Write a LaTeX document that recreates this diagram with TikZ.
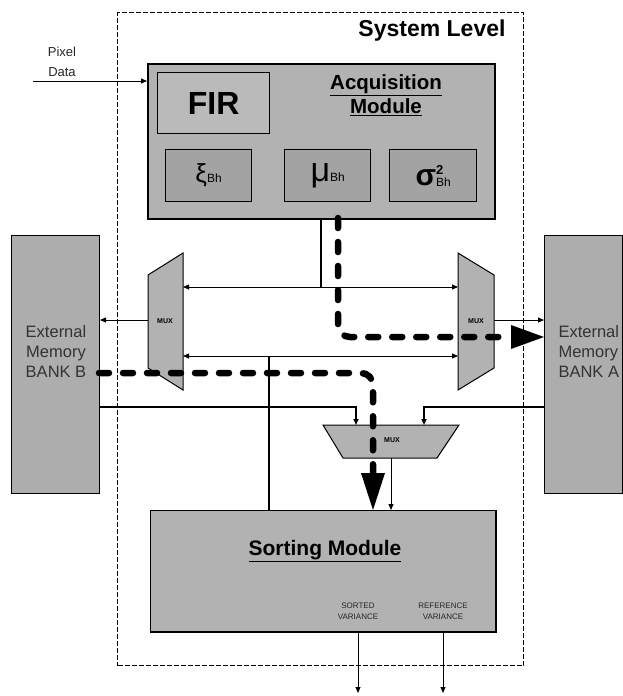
\documentclass[tikz,border=0pt]{standalone}
\usepackage{fontspec}
\setmainfont{Liberation Sans}
\usetikzlibrary{arrows.meta}
\begin{document}
\begin{tikzpicture}[x=1pt,y=-1pt,
  box/.style={draw, line width=1.3pt, fill=black!30, anchor=north west, inner sep=0pt},
  inbox/.style={draw, line width=1.3pt, fill=black!36, anchor=north west, inner sep=0pt},
  bank/.style={draw, line width=1pt, fill=black!32, anchor=north west, inner sep=0pt},
  mux/.style={draw, line width=1pt, fill=black!30},
  muxlabel/.style={font=\fontsize{7}{8}\selectfont\bfseries},
  thin/.style={line width=0.8pt},
  tip/.style={-{Triangle[length=6pt,width=5pt]}},
  bitip/.style={{Triangle[length=6pt,width=5pt]}-{Triangle[length=6pt,width=5pt]}},
  bigdash/.style={line width=6.5pt, dash pattern=on 10pt off 14pt, line cap=round},
  small/.style={font=\fontsize{8}{11}\selectfont, align=center, text=black!85}
]
\useasboundingbox (0,0) rectangle (622,696);

% system box
\node[draw, line width=1.1pt, dash pattern=on 5pt off 2pt, anchor=north west, inner sep=0pt,
      minimum width=406pt, minimum height=653pt] (sys) at (117,12) {};
\node[font=\fontsize{23}{27}\selectfont\bfseries] (syst) at (432,31) {System Level};

% acquisition module
\node[box, line width=2pt, minimum width=347pt, minimum height=155pt] (acq) at (147,63) {};
\node[inbox, fill=black!27, minimum width=112pt, minimum height=61pt] (fir) at (157,72) {};
\node[font=\fontsize{32}{36}\selectfont\bfseries] (firt) at (fir.center) {FIR};
\node[font=\fontsize{20.5}{24}\selectfont\bfseries] (acqt1) at (386,85) {\underline{Acquisition}};
\node[font=\fontsize{20.5}{24}\selectfont\bfseries] (acqt2) at (386,107) {\underline{Module}};
\node[inbox, minimum width=86pt, minimum height=52pt] (xi) at (165,149) {};
\node[inbox, minimum width=86pt, minimum height=52pt] (mu) at (284,149) {};
\node[inbox, minimum width=87pt, minimum height=52pt] (sig) at (389,149) {};
\node (xit) at (xi.center) {{\fontsize{26}{26}\selectfont ξ}\raisebox{0pt}{\fontsize{12}{12}\selectfont Bh}};
\node (mut) at (mu.center) {{\fontsize{34}{34}\selectfont μ}\raisebox{0pt}{\fontsize{12}{12}\selectfont Bh}};
\node (sigt) at (sig.center) {{\fontsize{30}{30}\selectfont\bfseries σ}\rlap{\raisebox{11pt}{\fontsize{13}{13}\selectfont\bfseries 2}}\raisebox{-1pt}{\fontsize{12}{12}\selectfont Bh}};

% pixel data
\node[font=\fontsize{13}{15}\selectfont, text=black!85] (pixt) at (62,52) {Pixel};
\node[font=\fontsize{13}{15}\selectfont, text=black!85] (datt) at (62,72) {Data};
\coordinate (pix) at (33,81);
\draw[thin, tip] (pix) -- (pix -| acq.west);

% banks
\node[bank, minimum width=88pt, minimum height=258pt] (bankB) at (11,235) {};
\node[bank, minimum width=78pt, minimum height=258pt] (bankA) at (544,235) {};
\node[font=\fontsize{16.5}{20}\selectfont, align=center, text=black!80] (bBt) at (56,352) {External\\Memory\\BANK B};
\node[font=\fontsize{16.5}{20}\selectfont, align=left, text=black!80, anchor=west] (bAt) at (555,352) {External\\Memory\\BANK A};

% muxes
\draw[mux] (148,275) -- (183,253) -- (183,390) -- (148,368) -- cycle;
\draw[mux] (458,253) -- (494,275) -- (494,368) -- (458,390) -- cycle;
\draw[mux] (323,425) -- (459,425) -- (437,458) -- (343,458) -- cycle;
\node[muxlabel] (muxL) at (165,321) {MUX};
\node[muxlabel] (muxR) at (476,321) {MUX};
\node[muxlabel] (muxD) at (392,440) {MUX};

% sorting module
\node[box, line width=1pt, minimum width=345pt, minimum height=121pt] (sort) at (150,510) {};
\draw[line width=2.2pt] (sort.north east) -- (sort.south east) -- (sort.south west);
\node[font=\fontsize{21}{25}\selectfont\bfseries] (sortt) at (325,551) {\underline{Sorting Module}};
\node[small] (sv) at (358,611) {SORTED\\VARIANCE};
\node[small] (rv) at (443,611) {REFERENCE\\VARIANCE};

% coordinates
\coordinate (a1) at (321,218);
\coordinate (j1) at (321,287);
\coordinate (uL) at (183,287);
\coordinate (uR) at (458,287);
\coordinate (lL) at (183,356);
\coordinate (lR) at (458,356);
\coordinate (j2) at (269,356);
\coordinate (mLo) at (148,320);
\coordinate (mRo) at (494,320);
\coordinate (bB1) at (99,407);
\coordinate (in1) at (356,407);
\coordinate (bA1) at (544,407);
\coordinate (in2) at (424,407);
\coordinate (mDo) at (391,458);
\coordinate (o1) at (358,693);
\coordinate (o2) at (443,693);

% buses
\draw[thin, bitip] (uL) -- (uR);
\draw[line width=1.3pt] (a1) -- (j1);
\draw[thin, bitip] (lL) -- (lR);
\draw[line width=1.6pt] (j2) -- (j2 |- sort.north);
\draw[thin, tip] (mLo) -- (mLo -| bankB.east);
\draw[thin, tip] (mRo) -- (mRo -| bankA.west);
\draw[line width=1.6pt, tip] (bB1) -- (in1) -- (356,425);
\draw[line width=1.6pt, tip] (bA1) -- (in2) -- (424,425);
\draw[thin, tip] (mDo) -- (mDo |- sort.north);
\draw[thin, tip] (sort.south -| o1) -- (o1);
\draw[thin, tip] (sort.south -| o2) -- (o2);

% big dashed data paths
\coordinate (d1s) at (338,218);
\coordinate (d1e) at (511,337);
\coordinate (d1t) at (544,337);
\draw[bigdash, rounded corners=12pt] (d1s) -- (338,337) -- (d1e);
\fill (511,325) -- (d1t) -- (511,349) -- cycle;
\coordinate (d2s) at (99,373);
\coordinate (d2e) at (373,473);
\coordinate (d2t) at (373,510);
\draw[bigdash, rounded corners=12pt] (d2s) -- (373,373) -- (d2e);
\fill (361,473) -- (d2t) -- (385,473) -- cycle;
\end{tikzpicture}
\end{document}
